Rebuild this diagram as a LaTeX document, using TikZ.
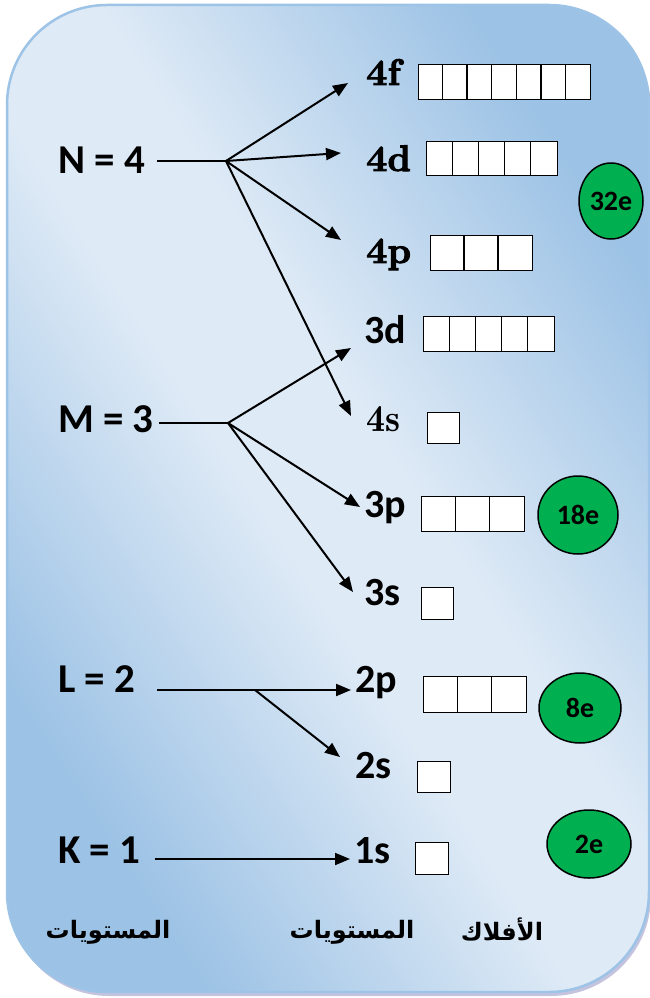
\documentclass[tikz,border=0pt]{standalone}
\usepackage{fontspec}
\setmainfont{Carlito}
\newfontfamily\cmbold{lmroman10-bold}[Extension=.otf, FakeBold=2.5]
\newfontfamily\cmdemi{lmromandemi10-regular}[Extension=.otf]
\newfontfamily\arabicfont[Script=Arabic]{DejaVu Sans}
\TeXXeTstate=1
\usetikzlibrary{arrows.meta,shapes.geometric}
\definecolor{bgdark}{HTML}{9CC2E5}
\definecolor{bglight}{HTML}{DEEAF6}
\definecolor{framec}{HTML}{9DC3E6}
\definecolor{circgreen}{HTML}{00B050}
\pgfdeclareverticalshading{bgshade}{100bp}{color(0bp)=(bgdark); color(26bp)=(bgdark); color(46bp)=(bglight); color(55bp)=(bglight); color(75bp)=(bgdark); color(100bp)=(bgdark)}
\newcommand\orbgroup[6]{%
  \node[orb, minimum width=#4pt, minimum height=#5pt] (#1) at (#2,#3) {};
  \ifnum#6>1
    \foreach \k in {1,...,\numexpr#6-1\relax}{%
      \draw[line width=1.3pt] ([xshift={\k*#4/#6}]#1.north west) -- ([xshift={\k*#4/#6}]#1.south west);}
  \fi}
\begin{document}
\begin{tikzpicture}[x=1pt,y=-1pt,
  lvl/.style={font=\fontsize{41}{41}\selectfont\bfseries, inner sep=0pt, anchor=base west},
  subsans/.style={font=\fontsize{40}{40}\selectfont\bfseries, inner sep=0pt, anchor=base west},
  subser/.style={font=\cmbold\fontsize{37}{37}\selectfont, inner sep=0pt, anchor=base west},
  subserreg/.style={font=\cmdemi\fontsize{38}{38}\selectfont, inner sep=0pt, anchor=base west},
  orb/.style={draw=black, fill=white, line width=1.3pt, inner sep=0pt, anchor=north west},
  conn/.style={line width=2pt},
  arr/.style={line width=2pt, -{Triangle[length=15pt,width=12pt]}},
  ecirc/.style={ellipse, draw=black, fill=circgreen, line width=1.5pt, inner sep=0pt,
    font=\fontsize{28}{28}\selectfont\bfseries},
  artext/.style={font=\arabicfont\fontsize{24}{24}\selectfont\bfseries, inner sep=0pt}
]
\useasboundingbox (0,0) rectangle (649,998);
% background frame
\fill[rounded corners=100pt, blue!30!gray!60, opacity=0.6] (9,9) rectangle (651,996);
\shade[rounded corners=100pt, shading=bgshade, shading angle=-57] (7,5) rectangle (649,992);
\draw[rounded corners=100pt, framec, line width=2.5pt] (7,5) rectangle (649,992);

% level labels
\node[lvl] (N4) at (58,173) {N = 4};
\node[lvl] (M3) at (58,432) {M = 3};
\node[lvl] (L2) at (58,692) {L = 2};
\node[lvl] (K1) at (58,863) {K = 1};

% sublevel labels
\node[subser] (s4f) at (366,85) {4f};
\node[subser] (s4d) at (366,171) {4d};
\node[subser] (s4p) at (366,263) {4p};
\node[subsans] (s3d) at (364,343) {3d};
\node[subserreg] (s4s) at (366,431) {4s};
\node[subsans] (s3p) at (364,517) {3p};
\node[subsans] (s3s) at (364,605) {3s};
\node[subsans] (s2p) at (355,692) {2p};
\node[subsans] (s2s) at (355,778) {2s};
\node[subsans] (s1s) at (354,863) {1s};

% orbital boxes
\orbgroup{o4f}{418}{64}{172}{35}{7}
\orbgroup{o4d}{426}{141}{131}{34}{5}
\orbgroup{o4p}{430}{235}{102}{35}{3}
\orbgroup{o3d}{423}{316}{131}{35}{5}
\orbgroup{o4s}{427}{412}{32}{31}{1}
\orbgroup{o3p}{421}{496}{103}{35}{3}
\orbgroup{o3s}{421}{587}{32}{32}{1}
\orbgroup{o2p}{423}{676}{103}{36}{3}
\orbgroup{o2s}{417}{761}{33}{31}{1}
\orbgroup{o1s}{415}{842}{33}{32}{1}

% electron circles
\node[ecirc, minimum width=64pt, minimum height=76pt] (c32) at (611,201) {32e};
\node[ecirc, minimum width=80pt, minimum height=78pt] (c18) at (578,515) {18e};
\node[ecirc, minimum width=82pt, minimum height=70pt] (c8) at (580,708) {8e};
\node[ecirc, minimum width=84pt, minimum height=68pt] (c2) at (589,844) {2e};

% branch points and arrow tips
\coordinate (bN) at (226,161);
\coordinate (bM) at (228,423);
\coordinate (bL) at (255,690);
\coordinate (t4f) at (348,83);
\coordinate (t4d) at (341,153);
\coordinate (t4p) at (341,240);
\coordinate (t4s) at (351,416);
\coordinate (t3d) at (351,348);
\coordinate (t3p) at (360,507);
\coordinate (t3s) at (353,592);
\coordinate (t2p) at (351,690);
\coordinate (t2s) at (340,757);
\coordinate (t1s) at (350,859);

% connectors
\draw[conn] ([xshift=12pt]N4.east |- bN) -- (bN);
\draw[arr] (bN) -- (t4f);
\draw[arr] (bN) -- (t4d);
\draw[arr] (bN) -- (t4p);
\draw[arr] (bN) -- (t4s);
\draw[conn] ([xshift=5pt]M3.east |- bM) -- (bM);
\draw[arr] (bM) -- (t3d);
\draw[arr] (bM) -- (t3p);
\draw[arr] (bM) -- (t3s);
\draw[arr] ([xshift=22pt]L2.east |- bL) -- (t2p);
\draw[arr] (bL) -- (t2s);
\draw[arr] ([xshift=14pt]K1.east |- t1s) -- (t1s);

% bottom captions
\node[artext] (a1) at (108,932) {\beginR المستويات\endR};
\node[artext] (a2) at (352,932) {\beginR المستويات\endR};
\node[artext] (a3) at (502,929) {\beginR الأفلاك\endR};
\end{tikzpicture}
\end{document}
